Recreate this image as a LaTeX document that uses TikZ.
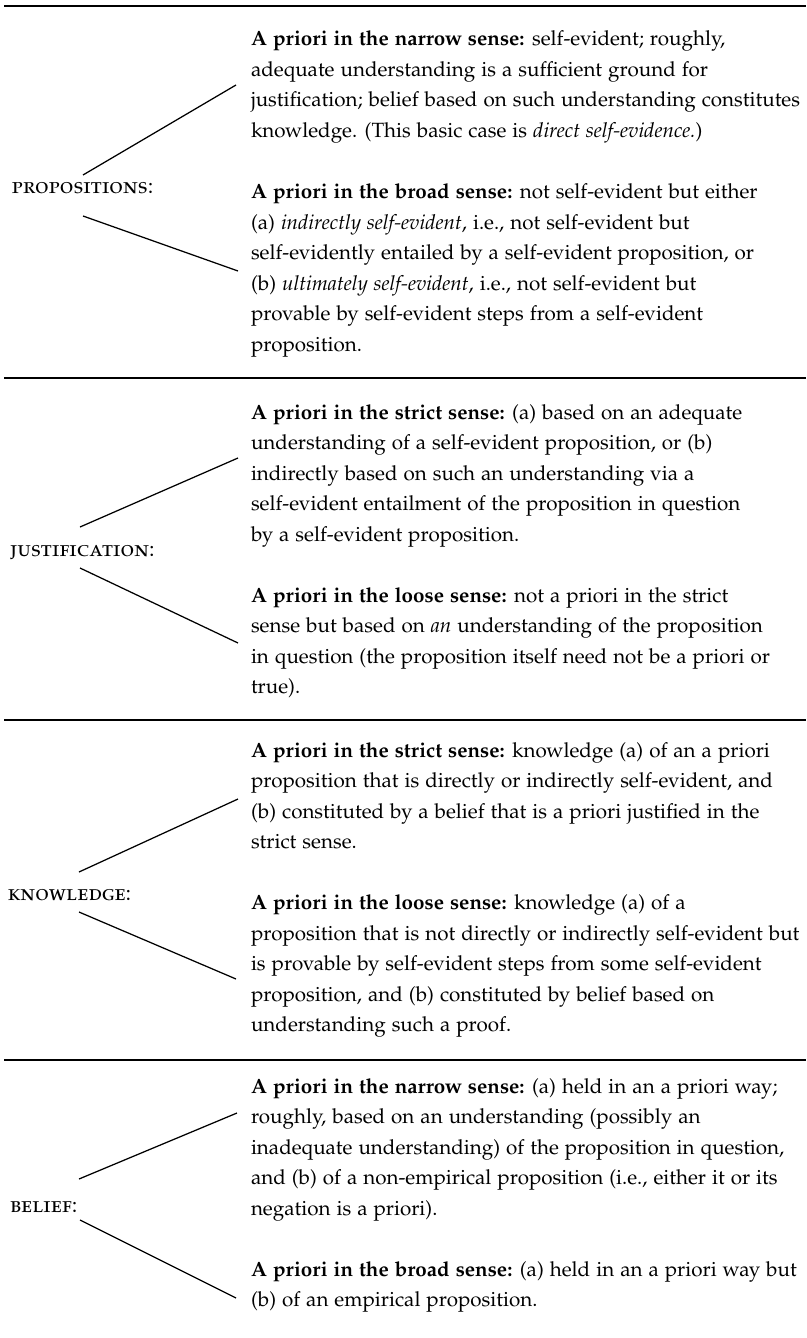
\documentclass[tikz,border=0pt]{standalone}
\usepackage[T1]{fontenc}
\usepackage[sc]{mathpazo}
\newcommand{\blk}[1]{\parbox[t]{570pt}{\fontsize{20.6}{30.5}\selectfont\raggedright #1}}
\newcommand{\lbl}[1]{{\fontsize{22.3}{26}\selectfont\textsc{#1}}}
\tikzset{
  sectionrule/.style={line width=2.4pt},
  conn/.style={line width=1.25pt},
  txt/.style={anchor=base west, inner sep=0pt, outer sep=0pt},
}
\begin{document}
\begin{tikzpicture}[x=1pt,y=-1pt]
\useasboundingbox (0,0) rectangle (806,1338);
% section rules
\draw[sectionrule] (4,6) -- (806,6);
\draw[sectionrule] (4,378) -- (806,378);
\draw[sectionrule] (4,720) -- (806,720);
\draw[sectionrule] (4,1060) -- (806,1060);

% ---------- PROPOSITIONS ----------
\node[txt] (prop) at (12,193) {\lbl{propositions:}};
\node[txt] (pa) at (251,46) {\blk{\textbf{A priori in the narrow sense:} self-evident; roughly,\\
adequate understanding is a sufficient ground for\\
justification; belief based on such understanding constitutes\\
knowledge. (This basic case is \textit{direct self-evidence.})}};
\node[txt] (pb) at (251,198.5) {\blk{\textbf{A priori in the broad sense:} not self-evident but either\\
(a) \textit{indirectly self-evident}, i.e., not self-evident but\\
self-evidently entailed by a self-evident proposition, or\\
(b) \textit{ultimately self-evident}, i.e., not self-evident but\\
provable by self-evident steps from a self-evident\\
proposition.}};
\coordinate (p0) at (83,175);
\coordinate (p1) at (236,85);
\coordinate (p2) at (83,216);
\coordinate (p3) at (238,271);
\draw[conn] (p0) -- (p1);
\draw[conn] (p2) -- (p3);

% ---------- JUSTIFICATION ----------
\node[txt] (just) at (10,556) {\lbl{justification:}};
\node[txt] (ja) at (251,419) {\blk{\textbf{A priori in the strict sense:} (a) based on an adequate\\
understanding of a self-evident proposition, or (b)\\
indirectly based on such an understanding via a\\
self-evident entailment of the proposition in question\\
by a self-evident proposition.}};
\node[txt] (jb) at (251,602) {\blk{\textbf{A priori in the loose sense:} not a priori in the strict\\
sense but based on \textit{an} understanding of the proposition\\
in question (the proposition itself need not be a priori or\\
true).}};
\coordinate (j0) at (80,527);
\coordinate (j1) at (238,458);
\coordinate (j2) at (80,568);
\coordinate (j3) at (238,643);
\draw[conn] (j0) -- (j1);
\draw[conn] (j2) -- (j3);

% ---------- KNOWLEDGE ----------
\node[txt] (know) at (8,900) {\lbl{knowledge:}};
\node[txt] (ka) at (251,757) {\blk{\textbf{A priori in the strict sense:} knowledge (a) of an a priori\\
proposition that is directly or indirectly self-evident, and\\
(b) constituted by a belief that is a priori justified in the\\
strict sense.}};
\node[txt] (kb) at (251,909.5) {\blk{\textbf{A priori in the loose sense:} knowledge (a) of a\\
proposition that is not directly or indirectly self-evident but\\
is provable by self-evident steps from some self-evident\\
proposition, and (b) constituted by belief based on\\
understanding such a proof.}};
\coordinate (k0) at (79,872);
\coordinate (k1) at (238,799);
\coordinate (k2) at (79,912);
\coordinate (k3) at (236,979);
\draw[conn] (k0) -- (k1);
\draw[conn] (k2) -- (k3);

% ---------- BELIEF ----------
\node[txt] (bel) at (10,1212) {\lbl{belief:}};
\node[txt] (ba) at (251,1093) {\blk{\textbf{A priori in the narrow sense:} (a) held in an a priori way;\\
roughly, based on an understanding (possibly an\\
inadequate understanding) of the proposition in question,\\
and (b) of a non-empirical proposition (i.e., either it or its\\
negation is a priori).}};
\node[txt] (bb) at (251,1276) {\blk{\textbf{A priori in the broad sense:} (a) held in an a priori way but\\
(b) of an empirical proposition.}};
\coordinate (b0) at (79,1179);
\coordinate (b1) at (237,1113);
\coordinate (b2) at (80,1220);
\coordinate (b3) at (236,1298);
\draw[conn] (b0) -- (b1);
\draw[conn] (b2) -- (b3);
\end{tikzpicture}
\end{document}
